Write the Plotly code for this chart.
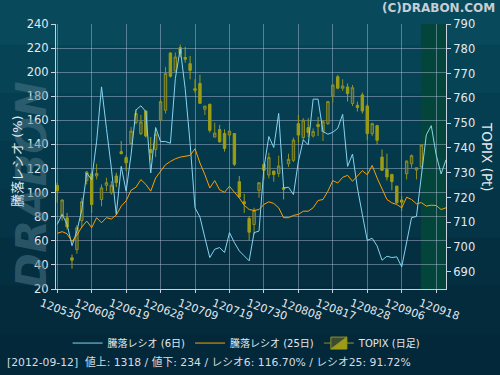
import plotly.graph_objects as go

# trading days (YYMMDD codes), shown as x-axis categories
dates = ["120530", "120531",
         "120601", "120604", "120605", "120606", "120607", "120608", "120611", "120612", "120613", "120614",
         "120615", "120618", "120619", "120620", "120621", "120622", "120625", "120626", "120627", "120628", "120629",
         "120702", "120703", "120704", "120705", "120706", "120709", "120710", "120711", "120712", "120713",
         "120717", "120718", "120719", "120720", "120723", "120724", "120725", "120726", "120727", "120730", "120731",
         "120801", "120802", "120803", "120806", "120807", "120808", "120809", "120810", "120813", "120814",
         "120815", "120816", "120817", "120820", "120821", "120822", "120823", "120824", "120827", "120828",
         "120829", "120830", "120831",
         "120903", "120904", "120905", "120906", "120907", "120910", "120911", "120912", "120913", "120914",
         "120918", "120919", "120920"]
tick_labels = ["120530", "120608", "120619", "120628", "120709", "120719",
               "120730", "120808", "120817", "120828", "120906", "120918"]

ratio6 = [73.7, 81.9, 73.7, 56.0, 68.1, 86.0, 116.3, 110.8, 142.4, 187.8,
          153.4, 120.4, 81.9, 121.8, 101.2, 131.4, 168.6, 172.1, 167.2, 116.3,
          154.0, 142.4, 142.4, 141.0, 194.7, 219.5, 186.4, 141.0, 87.4, 79.7,
          62.6, 46.1, 53.0, 54.4, 50.3, 66.8, 58.5, 51.6, 47.5, 43.4,
          66.8, 68.1, 120.4, 146.6, 137.5, 165.8, 103.9, 104.5, 98.4, 125.9,
          143.8, 139.7, 177.6, 177.6, 150.7, 148.5, 150.1, 153.4, 165.0, 121.8,
          132.0, 103.9, 81.9, 60.4, 62.1, 55.8, 43.9, 47.2, 46.1, 46.7,
          38.4, 58.5, 79.2, 80.3, 116.7, 148.0, 155.6, 131.4, 115.5, 127.3]

ratio25 = [66.2, 67.6, 65.9, 59.4, 64.8, 71.5, 76.4, 70.9, 79.2, 75.0,
           79.2, 78.1, 81.4, 88.8, 93.2, 102.0, 104.5, 110.8, 106.9, 101.2,
           112.2, 117.4, 123.2, 125.9, 128.1, 129.5, 130.1, 130.9, 136.4, 124.6,
           115.0, 103.9, 110.0, 102.3, 100.3, 105.3, 100.3, 95.6, 89.6, 86.0,
           85.2, 86.0, 90.2, 92.4, 91.0, 87.4, 79.2, 79.2, 81.1, 81.9,
           84.6, 84.6, 87.4, 93.5, 94.3, 101.2, 110.0, 108.0, 112.7, 114.4,
           109.4, 113.5, 118.2, 114.9, 122.6, 112.2, 102.5, 94.3, 91.5, 90.2,
           87.4, 96.2, 94.3, 90.7, 91.72, 88.8, 89.6, 89.3, 86.0, 87.4]

topix_open = [724.9, 712.5, 711.8, 695.7, 699.0, 710.7, 726.9, 729.6, 728.7, 719.2,
              724.9, 721.9, 728.7, 738.5, 736.1, 741.7, 750.2, 745.8, 754.9, 739.4,
              739.4, 751.2, 755.2, 778.3, 771.1, 780.5, 776.5, 774.0, 763.9, 766.0,
              755.6, 757.6, 744.4, 747.4, 745.8, 745.2, 745.8, 726.4, 718.3, 711.6,
              709.1, 722.9, 733.4, 729.1, 730.7, 729.7, 723.9, 733.6, 735.0, 749.8,
              744.2, 748.2, 744.8, 749.5, 746.6, 749.8, 761.0, 768.7, 764.1, 764.6,
              757.9, 757.2, 761.4, 756.9, 745.8, 749.0, 736.3, 731.4, 729.3, 724.6,
              719.0, 729.6, 733.6, 731.1, 732.3]
topix_high = [726.0, 719.2, 713.8, 697.0, 708.9, 719.9, 730.7, 730.4, 733.6, 725.3,
              728.0, 726.6, 730.0, 742.8, 737.1, 748.5, 755.6, 753.3, 755.2, 744.4,
              748.2, 759.6, 772.7, 778.6, 778.5, 781.7, 780.8, 777.1, 767.7, 769.5,
              756.9, 757.9, 750.2, 749.3, 747.5, 750.2, 745.8, 728.7, 721.5, 712.5,
              715.9, 726.0, 733.6, 738.1, 730.7, 736.9, 725.3, 737.7, 744.2, 753.3,
              752.0, 752.0, 747.9, 752.5, 751.2, 758.7, 765.7, 769.5, 767.7, 766.0,
              765.4, 758.7, 762.3, 757.6, 750.2, 749.3, 739.4, 737.7, 729.6, 724.6,
              720.6, 735.0, 737.4, 732.0, 741.4]
topix_low = [717.9, 710.7, 707.1, 691.3, 697.3, 707.8, 725.3, 713.8, 727.3, 716.5,
             722.6, 721.2, 724.2, 737.4, 730.7, 741.2, 749.5, 745.2, 744.2, 735.0,
             736.3, 750.6, 753.9, 768.4, 770.4, 776.5, 774.4, 767.7, 762.3, 757.9,
             753.3, 746.2, 744.2, 742.1, 738.5, 743.5, 732.7, 719.9, 713.8, 702.7,
             705.1, 719.9, 727.3, 727.7, 726.4, 728.3, 719.2, 732.3, 734.3, 742.1,
             742.8, 744.4, 744.2, 744.8, 742.8, 749.3, 758.3, 763.7, 763.0, 758.7,
             756.9, 754.7, 753.9, 743.1, 744.8, 741.4, 730.7, 726.9, 722.9, 717.5,
             714.5, 727.3, 732.0, 727.3, 732.0]
topix_close = [722.7, 719.0, 708.2, 694.7, 707.8, 718.3, 730.3, 717.2, 729.7, 723.9,
               726.0, 725.0, 726.0, 737.7, 734.0, 746.8, 753.9, 750.5, 744.8, 738.1,
               745.5, 758.7, 770.0, 768.9, 776.7, 778.1, 775.8, 771.3, 763.3, 758.0,
               756.9, 747.1, 746.0, 742.5, 739.8, 746.8, 733.4, 720.2, 717.5, 706.0,
               714.8, 726.0, 731.0, 736.1, 729.3, 732.7, 723.3, 735.4, 743.2, 745.2,
               751.2, 746.2, 746.6, 748.6, 750.6, 758.7, 765.4, 764.1, 765.0, 761.9,
               764.3, 756.3, 754.9, 745.8, 749.8, 743.1, 731.0, 728.3, 726.4, 717.9,
               718.1, 734.7, 736.9, 732.0, 741.2]

FONT = "DejaVu Sans, Noto Sans CJK JP, sans-serif"
TXT = "#e4e8ec"
GRID = "rgba(185,195,225,0.45)"
AXL = "#c9d2e2"

fig = go.Figure()

fig.add_trace(go.Candlestick(
    x=dates[:len(topix_close)], open=topix_open, high=topix_high, low=topix_low, close=topix_close,
    name="TOPIX (日足)", yaxis="y", xaxis="x", legendrank=3,
    increasing=dict(line=dict(color="#8f8f22", width=1), fillcolor="rgba(105,105,45,0.55)"),
    decreasing=dict(line=dict(color="#9c9c16", width=1), fillcolor="#9c9c16"),
    whiskerwidth=0, hoverinfo="skip"))

fig.add_trace(go.Scatter(x=dates, y=ratio6, mode="lines", name="騰落レシオ (6日)", legendrank=1,
                         line=dict(color="#86d4f2", width=1), yaxis="y2"))
fig.add_trace(go.Scatter(x=dates, y=ratio25, mode="lines", name="騰落レシオ (25日)", legendrank=2,
                         line=dict(color="#ffa000", width=1), yaxis="y2"))

# background bands (vertical gradient of page)
bands = ["#08495b", "#064455", "#053e50", "#04394b", "#043446", "#032f41", "#032b3c", "#03283a"]
shapes = []
n = len(bands)
for k, c in enumerate(bands):
    shapes.append(dict(type="rect", xref="paper", yref="paper", layer="below",
                       x0=-0.2, x1=1.2, y0=1.1 - (k + 1) * (1.45 / n), y1=1.1 - k * (1.45 / n),
                       fillcolor=c, line=dict(width=0)))
# green region at right end
shapes.append(dict(type="rect", xref="x", yref="paper", layer="below",
                   x0=73.9, x1=79.0, y0=0, y1=1, fillcolor="#03453a", line=dict(width=0)))

fig.update_layout(
    width=500, height=375,
    margin=dict(l=56, r=54, t=24, b=86, autoexpand=False),
    paper_bgcolor="#043447", plot_bgcolor="#1b3562",
    font=dict(family=FONT, color=TXT, size=11),
    shapes=shapes,
    showlegend=True,
    legend=dict(orientation="h", x=0.49, xanchor="center", y=-0.204, yanchor="middle",
                bgcolor="rgba(0,0,0,0)", font=dict(size=10, color=TXT),
                itemwidth=30),
    xaxis=dict(type="category", range=[-0.25, 79.0], tickmode="array",
               tickvals=tick_labels, ticktext=tick_labels, tickangle=20,
               showgrid=True, gridcolor=GRID, gridwidth=1, automargin=False,
               showline=True, linecolor=AXL, linewidth=1, ticks="outside", ticklen=3,
               tickcolor=AXL, tickfont=dict(size=11, color=TXT), ticklabelshift=-16,
               ticklabelstandoff=0, rangeslider=dict(visible=False), fixedrange=True),
    yaxis=dict(side="right", range=[683.1, 790], tickmode="array",
               tickvals=[690, 700, 710, 720, 730, 740, 750, 760, 770, 780, 790],
               showgrid=False, showline=True, linecolor=AXL, linewidth=1, automargin=False,
               ticks="outside", ticklen=4, tickcolor=AXL, tickfont=dict(size=11.5, color=TXT),
               zeroline=False),
    yaxis2=dict(side="left", overlaying="y", range=[20, 240], dtick=20, tick0=20,
                showgrid=True, gridcolor=GRID, gridwidth=1, showline=True, linecolor=AXL,
                linewidth=1, ticks="outside", ticklen=4, tickcolor=AXL, automargin=False,
                tickfont=dict(size=11.5, color=TXT), zeroline=False),
)

annotations = [
    dict(text="<b><i>DRABON</i></b>", xref="paper", yref="paper", x=-0.064, y=0.39,
         showarrow=False, textangle=-90, font=dict(size=43, color="rgba(80,122,138,0.5)",
                                                    family="DejaVu Sans"),
         xanchor="center", yanchor="middle"),
    dict(text="(C)DRABON.COM", xref="paper", yref="paper", x=1.131, y=1.06,
         xanchor="right", yanchor="middle", showarrow=False,
         font=dict(size=12, color="#c6ced4", family=FONT, weight="bold")),
    dict(text="騰落レシオ (%)", xref="paper", yref="paper", x=-0.1, y=0.483,
         xanchor="center", yanchor="middle", showarrow=False, textangle=-90,
         font=dict(size=13, color=TXT, family=FONT)),
    dict(text="TOPIX (Pt)", xref="paper", yref="paper", x=1.105, y=0.498,
         xanchor="center", yanchor="middle", showarrow=False, textangle=90,
         font=dict(size=13.5, color=TXT, family=FONT)),
    dict(text="[2012-09-12]  値上: 1318 / 値下: 234 / レシオ6: 116.70% / レシオ25: 91.72%",
         xref="paper", yref="paper", x=-0.1308, y=-0.279, xanchor="left", yanchor="middle",
         showarrow=False, font=dict(size=10.8, color="#d8dde2", family=FONT)),
]
fig.update_layout(annotations=annotations)

fig.write_html("out.html", config={"displayModeBar": False},
               post_script="document.body.style.margin='0';document.body.style.padding='0';"
                           "document.body.style.overflow='hidden';")
